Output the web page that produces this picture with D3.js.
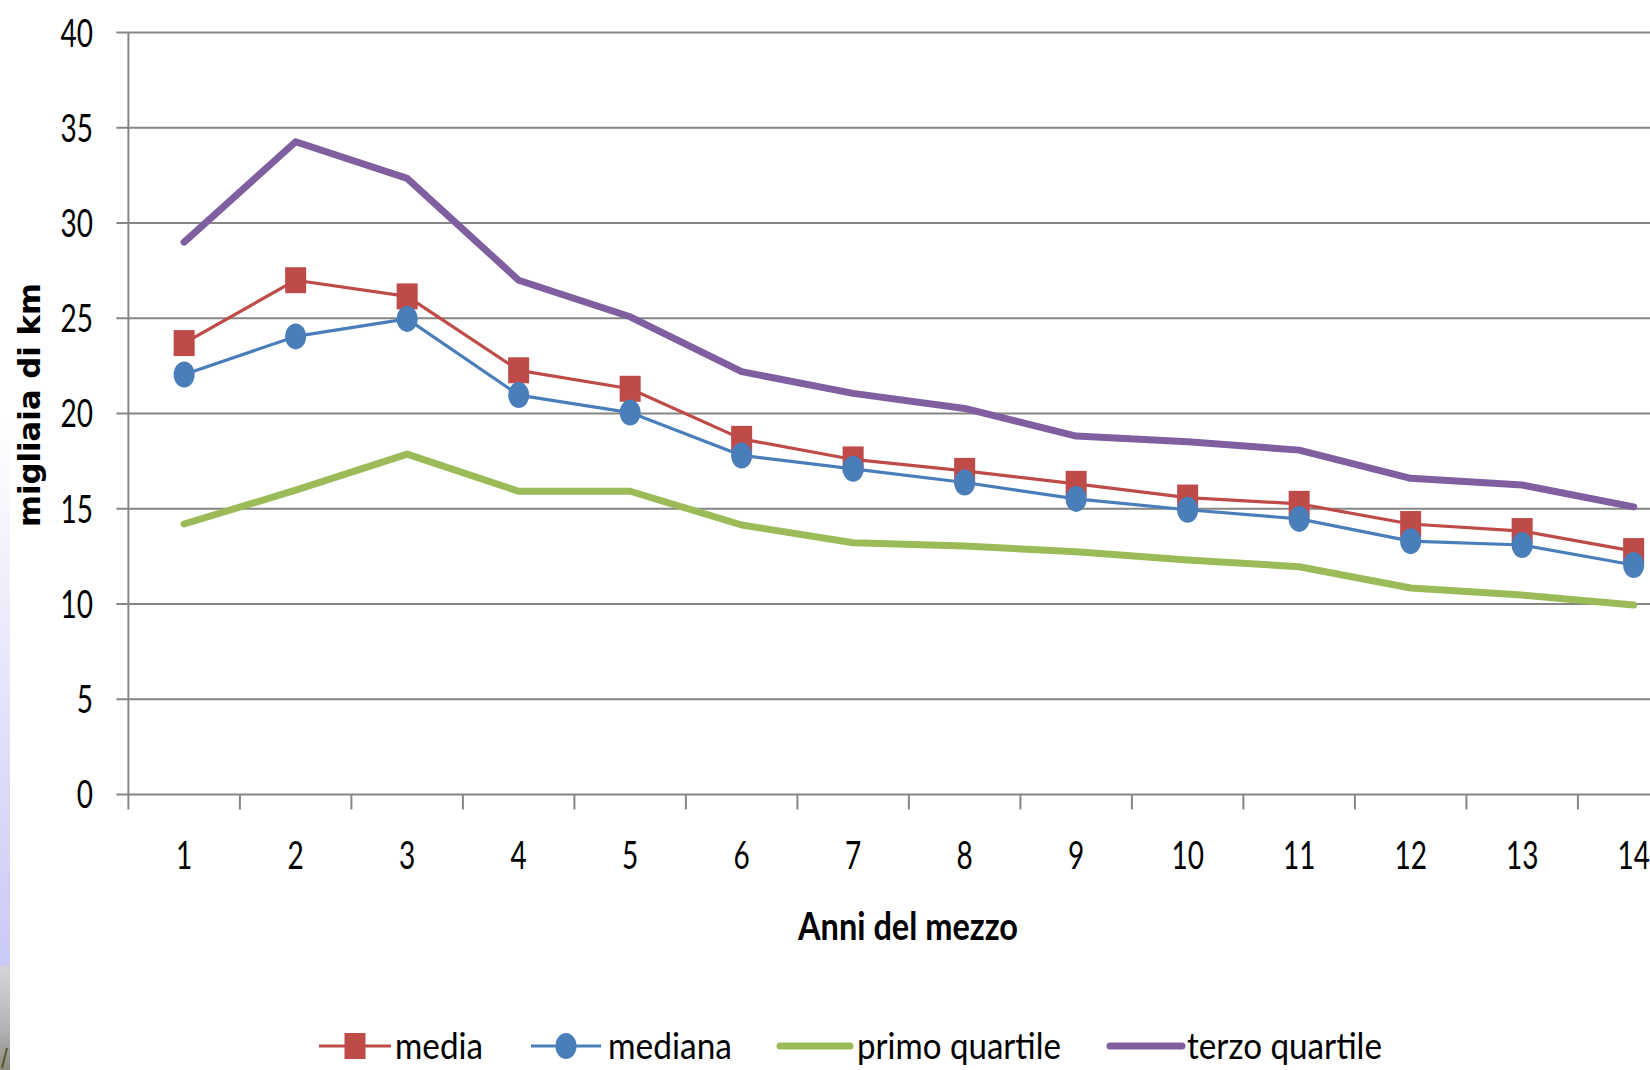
<!DOCTYPE html>
<html>
<head>
<meta charset="utf-8">
<script src="https://cdn.jsdelivr.net/npm/d3@7"></script>
<style>
  html, body { margin: 0; padding: 0; background: #fff; overflow: hidden; }
  svg { display: block; }
</style>
</head>
<body>
<script>
// Vehicle age (years) and yearly mileage statistics, thousands of km
const categories = [1, 2, 3, 4, 5, 6, 7, 8, 9, 10, 11, 12, 13, 14];
const media = [23.7, 27.0, 26.15, 22.27, 21.3, 18.67, 17.59, 16.99, 16.31, 15.59, 15.26, 14.2, 13.83, 12.78];
const mediana = [22.05, 24.05, 24.97, 20.97, 20.05, 17.8, 17.1, 16.38, 15.52, 14.95, 14.47, 13.3, 13.1, 12.05];
const primoQuartile = [14.2, 15.98, 17.87, 15.92, 15.92, 14.15, 13.22, 13.04, 12.75, 12.31, 11.96, 10.84, 10.47, 9.95];
const terzoQuartile = [29.0, 34.27, 32.35, 27.0, 25.08, 22.2, 21.06, 20.27, 18.82, 18.52, 18.08, 16.6, 16.25, 15.1];
const yTicks = [0, 5, 10, 15, 20, 25, 30, 35, 40];
const seriesNames = ["media", "mediana", "primo quartile", "terzo quartile"];

const W = 1650, H = 1070;
const svg = d3.select("body").append("svg").attr("width", W).attr("height", H);

const defs = svg.append("defs");
const g1 = defs.append("linearGradient").attr("id", "edgeBlue").attr("x1", 0).attr("y1", 0).attr("x2", 0).attr("y2", 1);
g1.append("stop").attr("offset", "0%").attr("stop-color", "#ffffff");
g1.append("stop").attr("offset", "100%").attr("stop-color", "#c9c9f6");
const g2 = defs.append("linearGradient").attr("id", "edgeGrey").attr("x1", 0).attr("y1", 0).attr("x2", 0).attr("y2", 1);
g2.append("stop").attr("offset", "0%").attr("stop-color", "#d4d4da");
g2.append("stop").attr("offset", "60%").attr("stop-color", "#b4b4b8");
g2.append("stop").attr("offset", "100%").attr("stop-color", "#8a8a80");

// thin decorative strip along the left border
svg.append("rect").attr("x", 0).attr("y", 420).attr("width", 10).attr("height", 550).attr("fill", "url(#edgeBlue)");
svg.append("rect").attr("x", 0).attr("y", 966).attr("width", 10).attr("height", 104).attr("fill", "url(#edgeGrey)");
svg.append("line").attr("x1", 2).attr("y1", 1068).attr("x2", 7).attr("y2", 1048).attr("stroke", "#5b5a2a").attr("stroke-width", 2);

const plotLeft = 128.4;
const step = 111.5;
const x = d3.scaleBand().domain(categories).range([plotLeft, plotLeft + step * categories.length]).padding(0);
const y = d3.scaleLinear().domain([0, 40]).range([794.5, 32.6]);
const cx = d => x(d) + x.bandwidth() / 2;

const gridColor = "#868686";

// horizontal gridlines with outward ticks on the left
svg.append("g").selectAll("line").data(yTicks).join("line")
  .attr("x1", plotLeft - 12).attr("x2", W)
  .attr("y1", d => y(d)).attr("y2", d => y(d))
  .attr("stroke", gridColor).attr("stroke-width", 2);

// vertical axis line
svg.append("line").attr("x1", plotLeft).attr("x2", plotLeft)
  .attr("y1", y(40)).attr("y2", y(0) + 15)
  .attr("stroke", gridColor).attr("stroke-width", 2);

// category boundary ticks under the horizontal axis
svg.append("g").selectAll("line").data(categories.slice(1)).join("line")
  .attr("x1", d => x(d)).attr("x2", d => x(d))
  .attr("y1", y(0)).attr("y2", y(0) + 15)
  .attr("stroke", gridColor).attr("stroke-width", 2);

const tickFont = "Lato, 'Open Sans', sans-serif";

// y tick labels
svg.append("g").selectAll("text").data(yTicks).join("text")
  .attr("transform", d => `translate(93,${y(d)}) scale(1,1.38)`)
  .attr("dy", "0.36em")
  .attr("text-anchor", "end")
  .attr("font-family", tickFont).attr("font-size", 28).attr("fill", "#000")
  .text(d => d);

// x tick labels
svg.append("g").selectAll("text").data(categories).join("text")
  .attr("transform", d => `translate(${cx(d)},855.5) scale(1,1.38)`)
  .attr("dy", "0.36em")
  .attr("text-anchor", "middle")
  .attr("font-family", tickFont).attr("font-size", 28).attr("fill", "#000")
  .text(d => d);

// axis titles
svg.append("text")
  .attr("transform", "translate(908,940) scale(1,1.3)")
  .attr("text-anchor", "middle")
  .attr("font-family", tickFont).attr("font-weight", "bold").attr("font-size", 30)
  .attr("textLength", 220).attr("lengthAdjust", "spacingAndGlyphs")
  .attr("fill", "#000")
  .text("Anni del mezzo");

svg.append("text")
  .attr("transform", "translate(40,405) rotate(-90)")
  .attr("text-anchor", "middle")
  .attr("font-family", "'DejaVu Sans', sans-serif").attr("font-weight", "bold").attr("font-size", 31)
  .attr("textLength", 244).attr("lengthAdjust", "spacingAndGlyphs")
  .attr("fill", "#000")
  .text("migliaia di km");

const colors = {
  media: "#BE4B48",
  mediana: "#4A7EBB",
  primo: "#9BBB59",
  terzo: "#7F5FA0"
};

const line = d3.line().x(d => cx(d.c)).y(d => y(d.v));
const pts = arr => categories.map((c, i) => ({ c, v: arr[i] }));

const markW = 21, markH = 26;

// media: thin line with square markers
svg.append("path").datum(pts(media)).attr("d", line)
  .attr("fill", "none").attr("stroke", colors.media).attr("stroke-width", 3.2).attr("stroke-linejoin", "round");
svg.append("g").selectAll("rect").data(pts(media)).join("rect")
  .attr("x", d => cx(d.c) - markW / 2).attr("y", d => y(d.v) - markH / 2)
  .attr("width", markW).attr("height", markH).attr("fill", colors.media);

// mediana: thin line with round markers
svg.append("path").datum(pts(mediana)).attr("d", line)
  .attr("fill", "none").attr("stroke", colors.mediana).attr("stroke-width", 3.2).attr("stroke-linejoin", "round");
svg.append("g").selectAll("ellipse").data(pts(mediana)).join("ellipse")
  .attr("cx", d => cx(d.c)).attr("cy", d => y(d.v))
  .attr("rx", markW / 2).attr("ry", markH / 2).attr("fill", colors.mediana);

// quartiles: thick lines, no markers
svg.append("path").datum(pts(primoQuartile)).attr("d", line)
  .attr("fill", "none").attr("stroke", colors.primo).attr("stroke-width", 7)
  .attr("stroke-linejoin", "round").attr("stroke-linecap", "round");
svg.append("path").datum(pts(terzoQuartile)).attr("d", line)
  .attr("fill", "none").attr("stroke", colors.terzo).attr("stroke-width", 7)
  .attr("stroke-linejoin", "round").attr("stroke-linecap", "round");

// legend
const legendY = 1046;
const legendBaseline = 1059;
const legendItems = [
  { name: seriesNames[0], color: colors.media, x0: 319, x1: 391, tx: 395, tw: 88, marker: "square", sw: 3.2 },
  { name: seriesNames[1], color: colors.mediana, x0: 531, x1: 601, tx: 608, tw: 124, marker: "circle", sw: 3.2 },
  { name: seriesNames[2], color: colors.primo, x0: 780, x1: 850, tx: 857, tw: 204, marker: null, sw: 7 },
  { name: seriesNames[3], color: colors.terzo, x0: 1110, x1: 1182, tx: 1187, tw: 195, marker: null, sw: 7 }
];
const lg = svg.append("g");
legendItems.forEach(it => {
  lg.append("line").attr("x1", it.x0).attr("x2", it.x1).attr("y1", legendY).attr("y2", legendY)
    .attr("stroke", it.color).attr("stroke-width", it.sw).attr("stroke-linecap", it.marker ? "butt" : "round");
  const mx = (it.x0 + it.x1) / 2;
  if (it.marker === "square") {
    lg.append("rect").attr("x", mx - markW / 2).attr("y", legendY - markH / 2)
      .attr("width", markW).attr("height", markH).attr("fill", it.color);
  } else if (it.marker === "circle") {
    lg.append("ellipse").attr("cx", mx).attr("cy", legendY).attr("rx", markW / 2).attr("ry", markH / 2).attr("fill", it.color);
  }
  lg.append("text")
    .attr("transform", `translate(${it.tx},${legendBaseline}) scale(1,1.3)`)
    .attr("font-family", tickFont).attr("font-size", 28).attr("fill", "#000")
    .attr("textLength", it.tw).attr("lengthAdjust", "spacingAndGlyphs")
    .text(it.name);
});
</script>
</body>
</html>
